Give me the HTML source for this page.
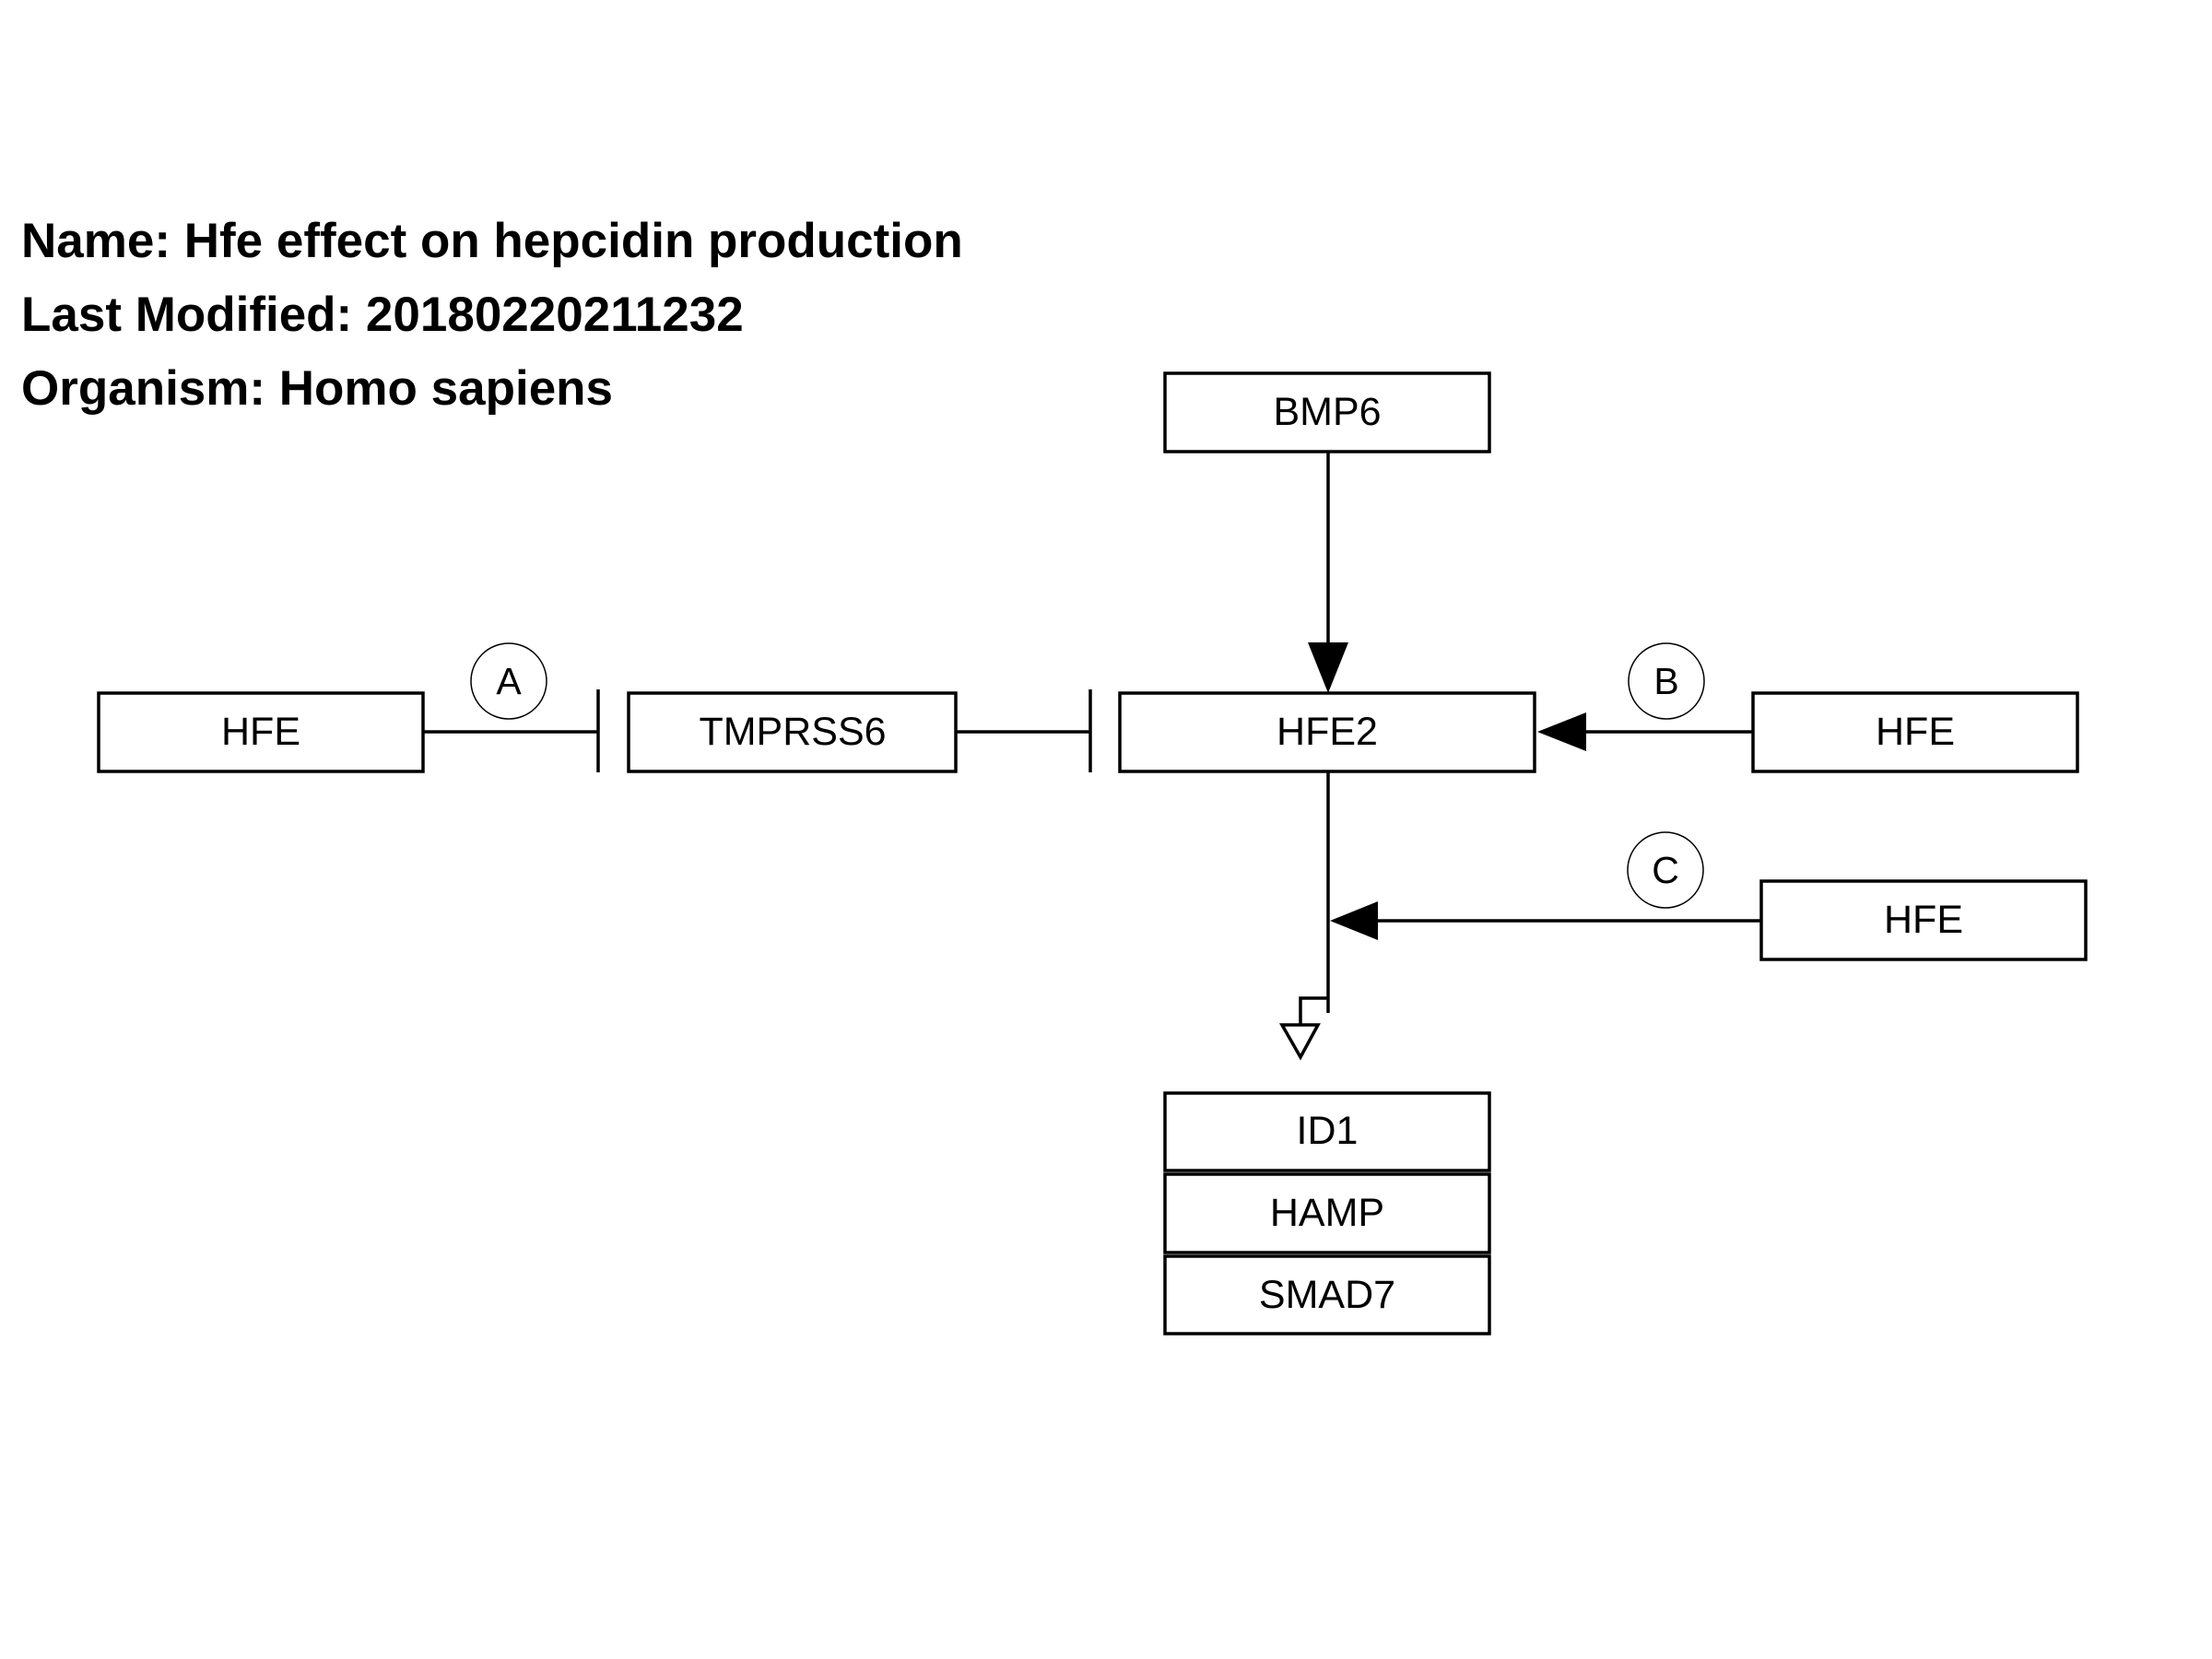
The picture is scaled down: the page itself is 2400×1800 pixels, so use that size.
<!DOCTYPE html>
<html><head><meta charset="utf-8"><style>
html,body{margin:0;padding:0;background:#fff;}
svg{display:block;}
text{font-family:"Liberation Sans",sans-serif;}
</style></head><body>
<svg width="2400" height="1800" viewBox="0 0 2400 1800" xmlns="http://www.w3.org/2000/svg">
<rect width="2400" height="1800" fill="#fff"/>
<g font-weight="bold" font-size="53" fill="#000">
<text x="23" y="279">Name: Hfe effect on hepcidin production</text>
<text x="23" y="359">Last Modified: 20180220211232</text>
<text x="23" y="439">Organism: Homo sapiens</text>
</g>
<g fill="#fff" stroke="#000" stroke-width="3.5">
<rect x="1264" y="405" width="352" height="85"/>
<rect x="107" y="752" width="352" height="85"/>
<rect x="682" y="752" width="355" height="85"/>
<rect x="1215" y="752" width="450" height="85"/>
<rect x="1902" y="752" width="352" height="85"/>
<rect x="1911" y="956" width="352" height="85"/>
<rect x="1264" y="1186" width="352" height="84"/>
<rect x="1264" y="1274" width="352" height="85"/>
<rect x="1264" y="1363" width="352" height="84"/>
</g>
<g font-size="43" fill="#000" text-anchor="middle">
<text x="1440" y="461">BMP6</text>
<text x="283" y="808">HFE</text>
<text x="860" y="808">TMPRSS6</text>
<text x="1440" y="808">HFE2</text>
<text x="2078" y="808">HFE</text>
<text x="2087" y="1012">HFE</text>
<text x="1440" y="1241">ID1</text>
<text x="1440" y="1330">HAMP</text>
<text x="1440" y="1419">SMAD7</text>
</g>
<g stroke="#000" stroke-width="3.5" fill="none">
<line x1="1441" y1="490" x2="1441" y2="700"/>
<line x1="459" y1="794" x2="649" y2="794"/>
<line x1="649" y1="748" x2="649" y2="838"/>
<line x1="1037" y1="794" x2="1183" y2="794"/>
<line x1="1183" y1="748" x2="1183" y2="838"/>
<line x1="1902" y1="794" x2="1718" y2="794"/>
<line x1="1911" y1="999" x2="1493" y2="999"/>
<line x1="1441" y1="837" x2="1441" y2="1099"/>
<polyline points="1441,1083 1411,1083 1411,1112"/>
<polygon points="1391,1112 1430,1112 1411,1147"/>
</g>
<g fill="#000">
<polygon points="1419,697 1463,697 1441,752"/>
<polygon points="1668,794 1721,773 1721,815"/>
<polygon points="1443,999 1495,978 1495,1020"/>
</g>
<g fill="#fff" stroke="#000" stroke-width="1.5">
<circle cx="552" cy="739" r="41"/>
<circle cx="1808" cy="739" r="41"/>
<circle cx="1807" cy="944" r="41"/>
</g>
<g font-size="41" fill="#000" text-anchor="middle">
<text x="552" y="753">A</text>
<text x="1808" y="753">B</text>
<text x="1807" y="958">C</text>
</g>
</svg>
</body></html>
